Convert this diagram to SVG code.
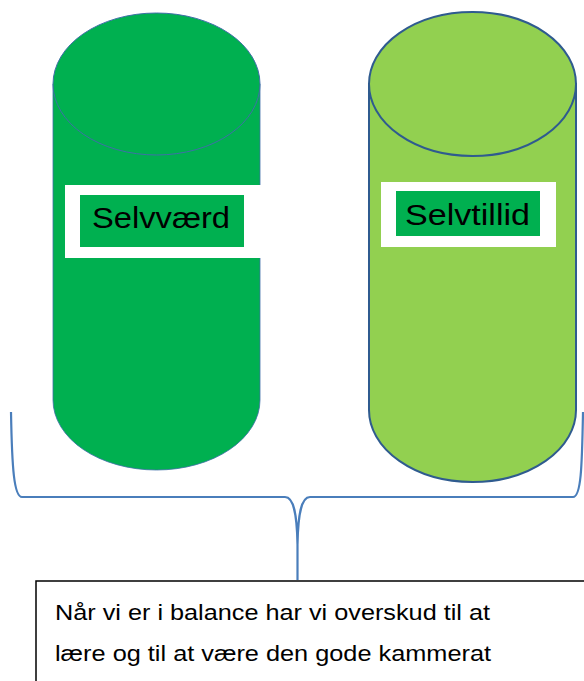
<svg xmlns="http://www.w3.org/2000/svg" width="584" height="681" viewBox="0 0 584 681">
<style>
.lbl{font-family:"Liberation Sans","Noto Sans",sans-serif;fill:#000}
.big{font-size:29px}
.body{font-size:22px}
</style>
<rect width="584" height="681" fill="#fff"/>
<g id="selvvaerd">
<path d="M53,84 L53,400 A103.5,70 0 0 0 260,400 L260,84 Z" fill="#00B050" stroke="#3F6FA8" stroke-width="0.8"/>
<ellipse cx="156.5" cy="84" rx="103.5" ry="71" fill="#00B050" stroke="#3F6FA8" stroke-width="1"/>
<rect x="65" y="185" width="197" height="73" fill="#fff"/>
<rect x="80" y="195" width="164" height="52" fill="#00B050"/>
<text class="lbl big" x="92" y="228" textLength="138" lengthAdjust="spacingAndGlyphs">Selvværd</text>
</g>
<g id="selvtillid">
<path d="M369,84 L369,410 A103.5,72 0 0 0 576,410 L576,84 Z" fill="#92D050" stroke="#2F5B8F" stroke-width="2"/>
<ellipse cx="472.5" cy="84" rx="103.5" ry="72" fill="#92D050" stroke="#2F5B8F" stroke-width="2"/>
<rect x="381" y="182" width="175" height="65" fill="#fff"/>
<rect x="396" y="191" width="144" height="45" fill="#00B050"/>
<text class="lbl big" x="405" y="225" textLength="125" lengthAdjust="spacingAndGlyphs">Selvtillid</text>
</g>
<g id="connectors">
<path d="M11,412 C12,468 14,497 22,497 L285,497 C294,497 297,515 297.5,545 L297.5,580 M297.5,545 C298,515 301,497 310,497 L573,497 C581,497 582,468 583,412" fill="none" stroke="#4A7EBB" stroke-width="2.2"/>
</g>
<g id="note">
<rect x="36" y="581" width="560" height="110" fill="#fff" stroke="#000" stroke-width="1.5"/>
<text class="lbl body" x="55" y="620" textLength="435" lengthAdjust="spacingAndGlyphs">Når vi er i balance har vi overskud til at</text>
<text class="lbl body" x="55" y="661" textLength="436" lengthAdjust="spacingAndGlyphs">lære og til at være den gode kammerat</text>
</g>
</svg>
